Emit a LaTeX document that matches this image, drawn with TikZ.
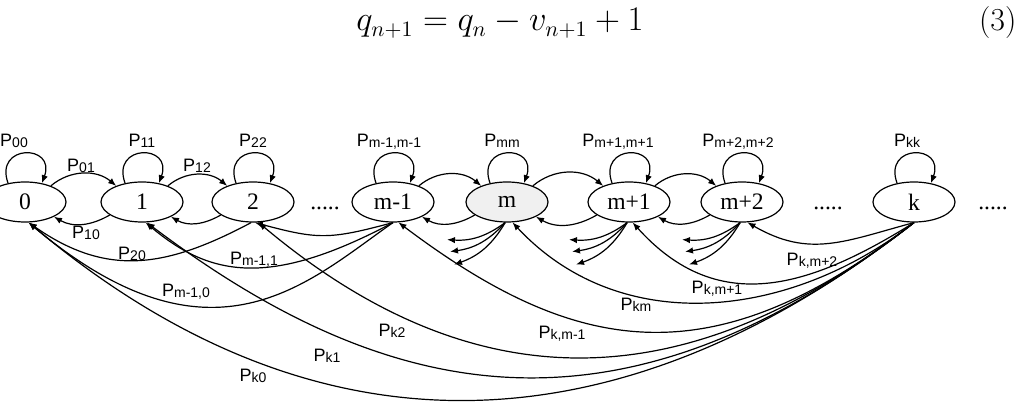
\documentclass[tikz,border=0pt]{standalone}
\usepackage{fontspec}
\usepackage{mathtools}
\usetikzlibrary{shapes.geometric,arrows.meta}
\newfontfamily\statefont{Liberation Serif}
\newfontfamily\probfont{Liberation Sans}
\newcommand{\prob}[1]{{\probfont\fontsize{9}{10}\selectfont P\raisebox{-0.5pt}{\fontsize{7}{8}\selectfont #1}}}

\begin{document}
\begin{tikzpicture}[x=0.5pt, y=-0.5pt, line width=0.6pt, >={Latex[length=4pt,width=3.2pt]},
	state/.style={draw, ellipse, minimum width=41pt, minimum height=20pt, inner sep=0pt, font=\statefont\fontsize{11.8}{12}\selectfont},
	lbl/.style={anchor=base, inner sep=0pt},
	dots/.style={anchor=base, inner sep=0pt, font=\statefont\fontsize{11.8}{12}\selectfont}]
	\useasboundingbox (0,0) rectangle (1018,405);
	% equation line
	\node[lbl] (eq) at (500,31) {\fontsize{16}{19}\selectfont $q_{n+1} = q_n - v_{n+1} + 1$};
	\node[anchor=base east, inner sep=0pt] (eqno) at (1017,31) {\fontsize{16}{19}\selectfont (3)};
	% states
	\node[state] (s0) at (25,202) {0};
	\node[state] (s1) at (142,202) {1};
	\node[state] (s2) at (253,202) {2};
	\node[state] (sm1) at (393,202) {m-1};
	\node[state, fill=gray!12] (sm) at (507,202) {m};
	\node[state] (sp1) at (629,202) {m+1};
	\node[state] (sp2) at (742,202) {m+2};
	\node[state] (sk) at (914,202) {k};
	\node[dots] (d1) at (325,210) {.....};
	\node[dots] (d2) at (828,210) {.....};
	\node[dots] (d3) at (993,210) {.....};
	% self loops
	\foreach \s/\lx/\t in {s0/14/00, s1/142/11, s2/253/22, sm1/389/{m-1,m-1}, sm/502/mm, sp1/618/{m+1,m+1}, sp2/738/{m+2,m+2}, sk/907/kk} {
		\draw[->] (\s.132) to[out=110,in=70,distance=21pt] (\s.48);
		\node[lbl] (l-\s) at (\lx,147) {\prob{\t}};
	}
	% neighbours
	\foreach \a/\b in {s0/s1, s1/s2, sm1/sm, sm/sp1, sp1/sp2} {
		\draw[->] (\a.32) to[out=40,in=140] (\b.148);
		\draw[->] (\b.202) to[out=210,in=-30] (\a.333);
	}
	\node[lbl] (l01) at (81,172) {\prob{01}};
	\node[lbl] (l12) at (197,172) {\prob{12}};
	\node[lbl] (l10) at (86,239) {\prob{10}};
	% jumps down from k
	\draw[->] (sk.south) to[out=218,in=-40,out distance=150pt,in distance=220pt] (s0.280);
	\draw[->] (sk.south) to[out=218,in=-37,out distance=185pt,in distance=153pt] (s1.283);
	\draw[->] (sk.south) to[out=218,in=-40,out distance=128pt,in distance=156pt] (s2.285);
	\draw[->] (sk.south) to[out=218,in=-37,out distance=128pt,in distance=111pt] (sm1.285);
	\draw[->] (sk.south) to[out=218,in=-47,distance=79pt] (sm.285);
	\draw[->] (sk.south) to[out=212,in=-48,distance=63pt] (sp1.280);
	\draw[->] (sk.south) to[out=195,in=-30,distance=36pt] (sp2.285);
	% jumps down from m-1 and 2
	\draw[->] (sm1.south) to[out=215,in=-40,out distance=52pt,in distance=120pt] (s0.280);
	\draw[->] (sm1.south) to[out=208,in=-40,out distance=70pt,in distance=42pt] (s1.280);
	\draw[->] (sm1.south) to[out=195,in=-15,distance=33pt] (s2.275);
	\draw[->] (s2.265) to[out=208,in=-35,distance=48pt] (s0.280);
	\node[lbl] (l20) at (132,260) {\prob{20}};
	\node[lbl] (lm11) at (254,265) {\prob{m-1,1}};
	\node[lbl] (lm10) at (186,297) {\prob{m-1,0}};
	\node[lbl] (lk2) at (392,337) {\prob{k2}};
	\node[lbl] (lk1) at (327,362) {\prob{k1}};
	\node[lbl] (lk0) at (253,382) {\prob{k0}};
	\node[lbl] (lkm1) at (562,339) {\prob{k,m-1}};
	\node[lbl] (lkm) at (636,311) {\prob{km}};
	\node[lbl] (lkp1) at (717,294) {\prob{k,m+1}};
	\node[lbl] (lkp2) at (812,266) {\prob{k,m+2}};
	% short stubs to lower states
	\foreach \s in {sm, sp1, sp2}
		\foreach \dx/\dy [count=\i] in {-60/17, -57/29, -53/42} {
			\coordinate (\s-e\i) at ([shift={(\dx,\dy)}]\s.south);
			\draw[->] (\s.265) to[bend left=20] (\s-e\i);
		}
\end{tikzpicture}
\end{document}
